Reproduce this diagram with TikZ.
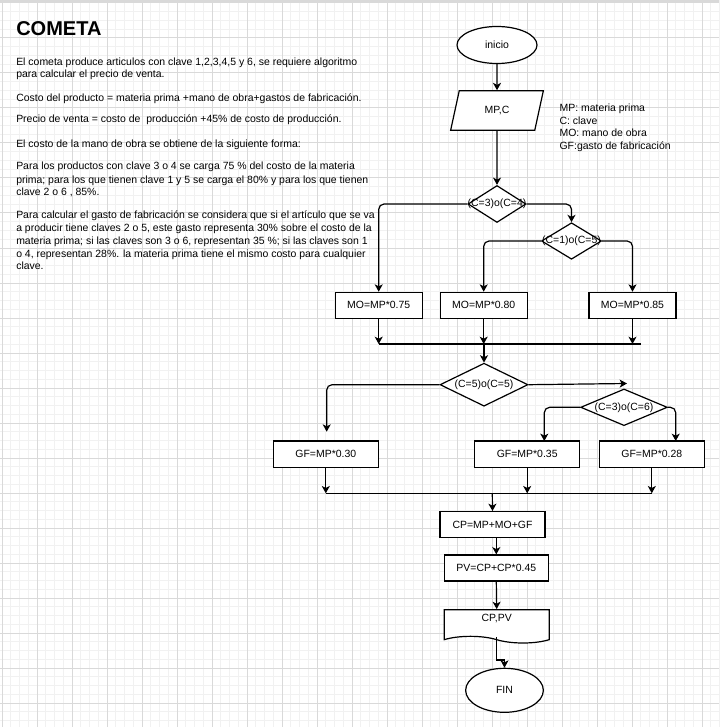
\documentclass[tikz,border=0pt]{standalone}
\usepackage{fontspec}
\setmainfont{Liberation Sans}
\usepackage{xcolor}
\usepackage{tikz}
\usetikzlibrary{shapes.geometric, shapes.symbols, arrows.meta}
\definecolor{rejilla}{HTML}{F1F1F1}
\definecolor{rejillab}{HTML}{D9D9D9}
\newcommand{\letra}{\fontsize{7.85pt}{9.4pt}\selectfont}

\begin{document}
\begin{tikzpicture}[x=0.75pt, y=-0.75pt,
    >={Stealth[length=5.5pt, width=6pt, inset=1.5pt]},
    every node/.style={font=\letra, text=black},
    caja/.style={draw, fill=white, line width=0.9pt, inner sep=0pt, minimum height=19.5pt, minimum width=#1},
    rombo/.style={diamond, draw, fill=white, line width=0.9pt, inner sep=0pt},
    elipse/.style={ellipse, draw, fill=white, line width=0.9pt, inner sep=0pt},
    linea/.style={anchor=base west, inner sep=0pt}]
    \useasboundingbox (0,0) rectangle (719,727);

    % Fondo cuadriculado
    \fill[white] (0,0) rectangle (719,727);
    \foreach \i in {-1,...,82} {
        \draw[rejilla, line width=0.75pt] ({2+8.75*\i},0) -- ({2+8.75*\i},727);
        \draw[rejilla, line width=0.75pt] (0,{3+8.75*\i}) -- (719,{3+8.75*\i});
    }
    \foreach \i in {0,...,20} {
        \draw[rejillab, line width=0.75pt] ({2+35*\i},0) -- ({2+35*\i},727);
        \draw[rejillab, line width=0.75pt] (0,{3+35*\i}) -- (719,{3+35*\i});
    }
    \fill[rejillab] (0,0) rectangle (719,2);

    % Enunciado
    \node[linea, font=\fontsize{15pt}{18pt}\bfseries\selectfont] (titulo) at (16,36) {COMETA};
    \foreach \y/\t [count=\i] in {
        65.7/{El cometa produce articulos con clave 1,2,3,4,5 y 6, se requiere algoritmo},
        78/{para calcular el precio de venta.},
        102/{Costo del producto = materia prima +mano de obra+gastos de fabricación.},
        122.6/{Precio de venta = costo de~ producción +45\% de costo de producción.},
        147.3/{El costo de la mano de obra se obtiene de la siguiente forma:},
        170/{Para los productos con clave 3 o 4 se carga 75 \% del costo de la materia},
        183.3/{prima; para los que tienen clave 1 y 5 se carga el 80\% y para los que tienen},
        196/{clave 2 o 6 , 85\%.},
        218.7/{Para calcular el gasto de fabricación se considera que si el artículo que se va},
        231.3/{a producir tiene claves 2 o 5, este gasto representa 30\% sobre el costo de la},
        244.7/{materia prima; si las claves son 3 o 6, representan 35 \%; si las claves son 1},
        257.3/{o 4, representan 28\%. la materia prima tiene el mismo costo para cualquier},
        269.3/{clave.}}
        \node[linea] (p\i) at (16,\y) {\t};

    % Variables
    \foreach \y/\t [count=\i] in {112/{MP: materia prima}, 124.3/{C: clave},
        136.7/{MO: mano de obra}, 149.3/{GF:gasto de fabricación}}
        \node[linea] (ley\i) at (559.3,\y) {\t};

    % Diagrama de flujo
    \node[elipse, minimum width=60pt, minimum height=27.75pt] (ini) at (497,45) {inicio};
    \node[trapezium, trapezium left angle=72, trapezium right angle=108, trapezium stretches=true,
        draw, fill=white, line width=0.9pt, inner sep=0pt, minimum width=69.5pt, minimum height=29.5pt] (dat) at (497,110.5) {MP,C};

    \node[rombo, minimum width=43.5pt, minimum height=27.75pt, label={center:{(C=3)o(C=4)}}] (r1) at (497,204) {};
    \node[rombo, minimum width=45pt, minimum height=27.4pt, label={center:{(C=1)o(C=5)}}] (r2) at (571.5,241) {};

    \node[caja=65.25pt] (mo1) at (378.7,305.3) {MO=MP*0.75};
    \node[caja=65.25pt] (mo2) at (483.7,305.3) {MO=MP*0.80};
    \node[caja=65.25pt] (mo3) at (632.5,305.3) {MO=MP*0.85};

    \node[rombo, minimum width=66pt, minimum height=32.25pt, label={center:{(C=5)o(C=5)}}] (r3) at (484,384.7) {};
    \node[rombo, minimum width=65pt, minimum height=27.5pt, label={center:{(C=3)o(C=6)}}] (r4) at (624,407.3) {};

    \node[caja=78.75pt, minimum height=20pt] (gf1) at (325.8,454.3) {GF=MP*0.30};
    \node[caja=78.75pt, minimum height=20pt] (gf2) at (527.2,454.3) {GF=MP*0.35};
    \node[caja=78.75pt, minimum height=20pt] (gf3) at (651.8,454.3) {GF=MP*0.28};

    \node[caja=78.75pt, minimum height=19.3pt] (cp) at (492.5,524.5) {CP=MP+MO+GF};
    \node[caja=78pt] (pv) at (496.3,568) {PV=CP+CP*0.45};
    \node[tape, tape bend top=none, tape bend bottom=out and in, tape bend height=5pt,
        draw, fill=white, line width=0.9pt, inner sep=0pt, minimum width=78.75pt, minimum height=25pt,
        label={[yshift=3pt]center:{CP,PV}}] (doc) at (496.7,623) {};
    \node[elipse, minimum width=58.3pt, minimum height=33pt] (fin) at (504.5,690.3) {FIN};

    % Puntos de union
    \coordinate (j1) at (484,344);
    \coordinate (j1e) at (640.7,344);
    \coordinate (a1) at (326.7,431.7);
    \coordinate (a2) at (627,383.5);
    \coordinate (a3) at (544.3,441);
    \coordinate (a4) at (675.7,441);
    \coordinate (j2) at (492.3,493.3);
    \coordinate (b1) at (504.5,660);

    % Conectores
    \begin{scope}[every path/.style={line width=0.9pt}, rounded corners=4pt]
    \draw [->] (ini.south)--(dat.north);
    \draw [->] (dat.south)--(r1.north);
    \draw [->] (r1.west) -| (mo1.north);
    \draw [->] (r1.east) -| (r2.north);
    \draw [->] (r2.west) -| (mo2.north);
    \draw [->] (r2.east) -| (mo3.north);

    \draw [->] (mo1.south)--(mo1.south |- j1);
    \draw [->] (mo2.south)--(mo2.south |- j1);
    \draw [->] (mo3.south)--(mo3.south |- j1);
    \draw (mo1.south |- j1)--(j1e);
    \draw [->] (j1)--(r3.north);

    \draw [->] (r3.west) -| (a1);
    \draw [->] (r3.east)--(a2);
    \draw [->] (r4.west) -| (a3);
    \draw [->] (r4.east) -| (a4);

    \draw [->] (gf1.south)--(gf1.south |- j2);
    \draw [->] (gf2.south)--(gf2.south |- j2);
    \draw [->] (gf3.south)--(gf3.south |- j2);
    \draw (gf1.south |- j2)--(gf3.south |- j2);
    \draw [->] (j2)--(cp.north);

    \draw [->] (pv.north |- cp.south)--(pv.north);
    \draw [->] (pv.south)--(doc.north);
    \draw [->, sharp corners] (doc.south) |- (b1)--(fin.north);
    \end{scope}
\end{tikzpicture}
\end{document}
